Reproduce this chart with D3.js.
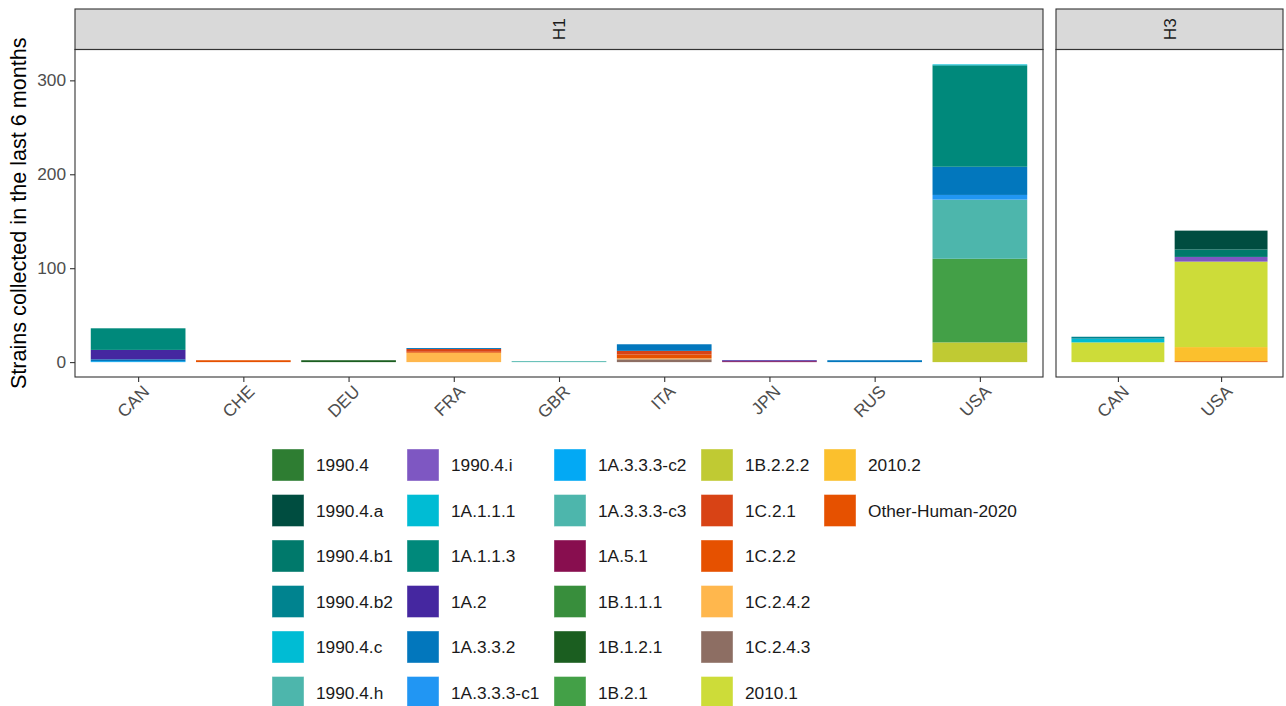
<!DOCTYPE html>
<html>
<head>
<meta charset="utf-8">
<script src="https://cdn.jsdelivr.net/npm/d3@7"></script>
<style>
  body { margin: 0; background: #fff; }
  svg { display: block; font-family: "Liberation Sans", Arial, sans-serif; }
</style>
</head>
<body>
<div id="chart"></div>
<script>
/* clade levels, in legend order (first level ends up on top of each stack) */
const clades = ["1990.4", "1990.4.a", "1990.4.b1", "1990.4.b2", "1990.4.c", "1990.4.h",
    "1990.4.i", "1A.1.1.1", "1A.1.1.3", "1A.2", "1A.3.3.2", "1A.3.3.3-c1",
    "1A.3.3.3-c2", "1A.3.3.3-c3", "1A.5.1", "1B.1.1.1", "1B.1.2.1", "1B.2.1",
    "1B.2.2.2", "1C.2.1", "1C.2.2", "1C.2.4.2", "1C.2.4.3", "2010.1",
    "2010.2", "Other-Human-2020"];
const cladeColors = ["#2E7D32", "#004D40", "#00796B", "#00838F", "#00BCD4", "#4DB6AC",
    "#7E57C2", "#00BCD4", "#00897B", "#4527A0", "#0277BD", "#2196F3",
    "#03A9F4", "#4DB6AC", "#880E4F", "#388E3C", "#1B5E20", "#43A047",
    "#C0CA33", "#D84315", "#E65100", "#FFB74D", "#8D6E63", "#CDDC39",
    "#FBC02D", "#E65100"];

const subtypes = ["H1", "H3"];
const h1Countries = ["CAN", "CHE", "DEU", "FRA", "GBR", "ITA", "JPN", "RUS", "USA"];
const h3Countries = ["CAN", "USA"];

/* [country, clade, strains] */
const h1Strains = [
    ["CAN", "1A.1.1.3", 23], ["CAN", "1A.2", 10], ["CAN", "1A.3.3.2", 2], ["CAN", "1A.3.3.3-c2", 1],
    ["CHE", "1C.2.2", 2],
    ["DEU", "1B.1.2.1", 2],
    ["FRA", "1A.3.3.2", 1], ["FRA", "1C.2.1", 3], ["FRA", "1C.2.2", 1], ["FRA", "1C.2.4.2", 10],
    ["GBR", "1A.3.3.3-c3", 1],
    ["ITA", "1A.3.3.2", 7], ["ITA", "1C.2.1", 4], ["ITA", "1C.2.2", 4], ["ITA", "1C.2.4.2", 1], ["ITA", "1C.2.4.3", 3],
    ["JPN", "1A.2", 1], ["JPN", "1A.5.1", 1],
    ["RUS", "1A.3.3.2", 2],
    ["USA", "1A.1.1.1", 1], ["USA", "1A.1.1.3", 108], ["USA", "1A.3.3.2", 30], ["USA", "1A.3.3.3-c1", 5],
    ["USA", "1A.3.3.3-c3", 63], ["USA", "1B.2.1", 89], ["USA", "1B.2.2.2", 21]
];
const h3Strains = [
    ["CAN", "1990.4.b2", 2], ["CAN", "1990.4.c", 4], ["CAN", "2010.1", 21],
    ["USA", "1990.4.a", 20], ["USA", "1990.4.b1", 8], ["USA", "1990.4.i", 5],
    ["USA", "2010.1", 91], ["USA", "2010.2", 15], ["USA", "Other-Human-2020", 1]
];

const W = 1286, H = 706;
const panelTop = 49.5, panelBottom = 377;
const stripTop = 9;
const tickFont = 17.3;
/* panel horizontal extents */
const panels = [
    { name: "H1", x0: 75, x1: 1043, countries: h1Countries, rows: h1Strains },
    { name: "H3", x0: 1056, x1: 1283, countries: h3Countries, rows: h3Strains }
];

const color = d3.scaleOrdinal().domain(clades).range(cladeColors);

/* stack each country: later clade levels at the bottom */
function stackRows(rows) {
    const out = [];
    const byCountry = d3.group(rows, r => r[0]);
    byCountry.forEach((list, country) => {
        const sorted = list.slice().sort((a, b) => clades.indexOf(b[1]) - clades.indexOf(a[1]));
        let acc = 0;
        sorted.forEach(r => {
            out.push({ country: country, clade: r[1], y0: acc, y1: acc + r[2] });
            acc += r[2];
        });
    });
    return out;
}
panels.forEach(p => { p.stacked = stackRows(p.rows); });

const yMax = d3.max(panels, p => d3.max(p.stacked, d => d.y1));
const y = d3.scaleLinear()
    .domain([-0.05 * yMax, yMax * 1.05])
    .range([panelBottom, panelTop]);

const svg = d3.select("#chart").append("svg")
    .attr("width", W)
    .attr("height", H);

panels.forEach((p, pi) => {
    /* ggplot-style discrete expansion of 0.6 each side, bar width 0.9 */
    const n = p.countries.length;
    const unit = (p.x1 - p.x0) / (n + 0.2);
    const x = d3.scalePoint()
        .domain(p.countries)
        .range([p.x0 + 0.6 * unit, p.x1 - 0.6 * unit]);
    const barW = 0.9 * unit;

    /* strip */
    svg.append("rect")
        .attr("x", p.x0).attr("y", stripTop)
        .attr("width", p.x1 - p.x0).attr("height", panelTop - stripTop)
        .attr("fill", "#D9D9D9")
        .attr("stroke", "#333333")
        .attr("stroke-width", 1.1);
    svg.append("text")
        .attr("transform", `translate(${(p.x0 + p.x1) / 2},${(stripTop + panelTop) / 2}) rotate(-90)`)
        .attr("text-anchor", "middle")
        .attr("dy", "0.35em")
        .attr("font-size", tickFont)
        .attr("fill", "#1A1A1A")
        .text(p.name);

    /* bars */
    svg.append("g")
        .selectAll("rect")
        .data(p.stacked)
        .join("rect")
        .attr("x", d => x(d.country) - barW / 2)
        .attr("width", barW)
        .attr("y", d => y(d.y1))
        .attr("height", d => y(d.y0) - y(d.y1))
        .attr("fill", d => color(d.clade));

    /* panel border */
    svg.append("rect")
        .attr("x", p.x0).attr("y", panelTop)
        .attr("width", p.x1 - p.x0).attr("height", panelBottom - panelTop)
        .attr("fill", "none")
        .attr("stroke", "#333333")
        .attr("stroke-width", 1.1);

    /* x axis */
    const xAxis = svg.append("g")
        .attr("transform", `translate(0,${panelBottom})`)
        .call(d3.axisBottom(x).tickSize(5).tickPadding(3));
    xAxis.select(".domain").remove();
    xAxis.selectAll(".tick line").attr("stroke", "#333333").attr("stroke-width", 1.1);
    xAxis.selectAll(".tick text")
        .attr("font-size", tickFont)
        .attr("font-family", "Liberation Sans, Arial, sans-serif")
        .attr("fill", "#4D4D4D")
        .attr("text-anchor", "end")
        .attr("y", 0).attr("x", 0)
        .attr("dy", "0.71em")
        .attr("transform", "translate(3,7) rotate(-45)");

    /* y axis only on the first panel */
    if (pi === 0) {
        const yAxis = svg.append("g")
            .attr("transform", `translate(${p.x0},0)`)
            .call(d3.axisLeft(y).tickValues([0, 100, 200, 300]).tickSize(5).tickPadding(4));
        yAxis.select(".domain").remove();
        yAxis.selectAll(".tick line").attr("stroke", "#333333").attr("stroke-width", 1.1);
        yAxis.selectAll(".tick text")
            .attr("font-size", tickFont)
            .attr("font-family", "Liberation Sans, Arial, sans-serif")
            .attr("fill", "#4D4D4D");
    }
});

/* y axis title */
svg.append("text")
    .attr("transform", `translate(26,${(panelTop + panelBottom) / 2}) rotate(-90)`)
    .attr("text-anchor", "middle")
    .attr("font-size", 21.6)
    .attr("fill", "#000")
    .text("Strains collected in the last 6 months");

/* legend: 6 rows, filled column by column */
const legendColX = [272, 407, 554, 701, 824];
const legendTop = 449, legendStep = 45.5, keySize = 32;
const legend = svg.append("g")
    .selectAll("g")
    .data(clades)
    .join("g")
    .attr("transform", (d, i) => `translate(${legendColX[Math.floor(i / 6)]},${legendTop + (i % 6) * legendStep})`);
legend.append("rect")
    .attr("width", keySize).attr("height", keySize)
    .attr("fill", d => color(d))
    .attr("stroke", "#fff")
    .attr("stroke-opacity", 0.5)
    .attr("stroke-width", 0.8);
legend.append("text")
    .attr("x", keySize + 12)
    .attr("y", keySize / 2)
    .attr("dy", "0.35em")
    .attr("font-size", tickFont)
    .attr("fill", "#1A1A1A")
    .text(d => d);
</script>
</body>
</html>
